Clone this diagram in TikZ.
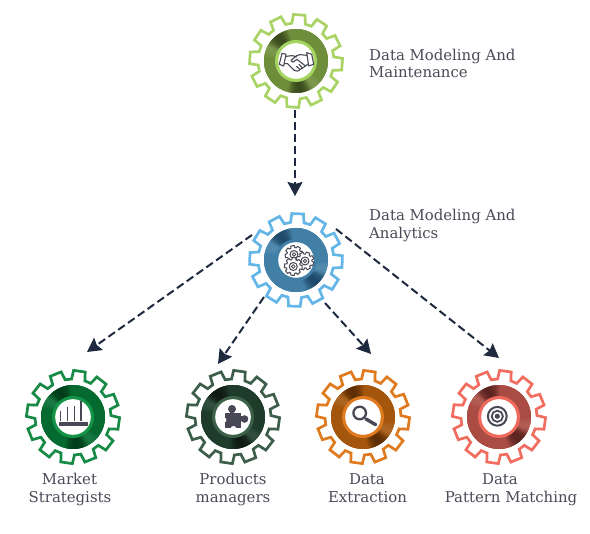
\documentclass[tikz,border=0pt]{standalone}
\usepackage{fontspec}
\setmainfont{DejaVu Serif}
\usetikzlibrary{arrows.meta}
\definecolor{txt}{HTML}{4A4A58}
\definecolor{ico}{HTML}{484856}
\definecolor{arr}{HTML}{1F2A3F}
\definecolor{topG}{HTML}{A9D465}\definecolor{topR}{HTML}{6F8E3B}\definecolor{topD}{HTML}{3C4C1E}\definecolor{topA}{HTML}{A3D45F}
\definecolor{midG}{HTML}{63B6E6}\definecolor{midR}{HTML}{417FA6}\definecolor{midD}{HTML}{1F4A68}\definecolor{midA}{HTML}{417FA6}
\definecolor{mkG}{HTML}{178A45}\definecolor{mkR}{HTML}{056A30}\definecolor{mkD}{HTML}{023D1B}\definecolor{mkA}{HTML}{159447}
\definecolor{prG}{HTML}{3D5E4A}\definecolor{prR}{HTML}{1F3C2B}\definecolor{prD}{HTML}{101A14}\definecolor{prA}{HTML}{3D6048}
\definecolor{exG}{HTML}{E07A1F}\definecolor{exR}{HTML}{A4560D}\definecolor{exD}{HTML}{5C2E05}\definecolor{exA}{HTML}{E07A1F}
\definecolor{paG}{HTML}{F06D60}\definecolor{paR}{HTML}{AA4C43}\definecolor{paD}{HTML}{5A2420}\definecolor{paA}{HTML}{EF6A5C}
\tikzset{
  x=1pt,y=1pt,
  gearnode/.style={circle,minimum size=96pt,inner sep=0pt,outer sep=0pt},
  lab/.style={font=\fontsize{14.9}{14.9}\selectfont,text=txt,inner sep=0pt},
  conn/.style={draw=arr,line width=2pt,dash pattern=on 8pt off 4pt,-{Stealth[length=14pt,width=15pt,inset=2pt]}},
  icoline/.style={draw=ico,line width=1.1pt,line join=round,line cap=round}
}
% builds a closed toothed outline in \gp
\newcommand\mkgear[6]{%
  \gdef\gp{}%
  \pgfmathsetmacro\gpitch{360/#1}%
  \foreach \i in {1,...,#1}{%
    \pgfmathsetmacro\gc{#4+(\i-1)*\gpitch}%
    \pgfmathsetmacro\ga{\gc-#5*\gpitch}%
    \pgfmathsetmacro\gb{\gc-#6*\gpitch}%
    \pgfmathsetmacro\gd{\gc+#6*\gpitch}%
    \pgfmathsetmacro\ge{\gc+#5*\gpitch}%
    \xdef\gp{\gp (\ga:#2) -- (\gb:#3) -- (\gd:#3) -- (\ge:#2) -- }%
  }%
}
% name, x, y, tooth angle, colour prefix, dark angle 1, dark angle 2, icon
\newcommand\gearfig[8]{%
  \node[gearnode] (#1) at (#2,#3) {};
  \begin{scope}[shift={(#2,#3)}]
    \mkgear{12}{38}{46.6}{#4}{0.34}{0.24}
    \draw[#5G,line width=2.7pt,line join=miter] \gp cycle;
    \fill[#5R] (0,0) circle[radius=32];
    \foreach \a in {0,4,...,356}{%
      \pgfmathsetmacro\dA{abs(mod(\a-(#6)+720,360)-180)}%
      \pgfmathsetmacro\dB{abs(mod(\a-(#7)+720,360)-180)}%
      \pgfmathsetmacro\lA{abs(mod(\a-(#6)+690,360)-180)}%
      \pgfmathsetmacro\lB{abs(mod(\a-(#7)+690,360)-180)}%
      \pgfmathsetmacro\wk{100*(1-max(max(0,1-(\dA/24)^2),max(0,1-(\dB/24)^2)))}%
      \pgfmathsetmacro\wl{9*max(max(0,1-(\lA/16)^2),max(0,1-(\lB/16)^2))}%
      \colorlet{wedgeC}{#5R!\wk!#5D}%
      \colorlet{wedgeD}{white!\wl!wedgeC}%
      \pgfmathsetmacro\aE{\a+9}%
      \draw[wedgeD,line width=12pt] (\a:26) arc[start angle=\a,end angle=\aE,radius=26];
    }
    \fill[#5A] (0,0) circle[radius=21];
    \fill[white] (0,0) circle[radius=17.8];
    \begin{scope}[yscale=-1]
      #8
    \end{scope}
  \end{scope}
}
\begin{document}
\begin{tikzpicture}
\useasboundingbox (0,0) rectangle (590,534);
\fill[white] (0,0) rectangle (590,534);

\gearfig{top}{296}{473}{86}{top}{95}{-55}{%
  \draw[icoline] (-14,-7.7) -- (-10,-6.7) -- (-12.3,5) -- (-16.7,3.3) -- cycle;
  \draw[icoline] (10.7,-8.3) -- (15.7,-6.7) -- (17.7,3.3) -- (12.7,5) -- cycle;
  \draw[icoline] (-10.4,-4.6) -- (-3.5,-5.4) -- (0.5,-4);
  \draw[icoline] (11,-5.6) -- (4,-6.4) -- (0.5,-5.2) -- (-5,-0.6) -- (-3.2,1.2) -- (1,-1.6) -- (9.5,5);
  \draw[icoline] (-11.6,2.6) -- (-8.6,2.6) -- (-1.6,9.4) -- (1.6,10.2) -- (4.2,8.4) -- (6.6,7) -- (9.5,5) -- (12,3);
  \draw[icoline] (0.6,5.4) -- (3.8,8.4);
  \draw[icoline] (3,3.4) -- (6.2,6.8);
}
\gearfig{mid}{296}{274}{88}{mid}{130}{-60}{%
  \foreach \cx/\cy/\rr in {-2/-5.5/10,9/1/25,-2.7/6.5/40}{%
    \begin{scope}[shift={(\cx,\cy)},yscale=-1]
      \mkgear{8}{7}{9}{\rr}{0.37}{0.25}
      \draw[icoline,fill=white,line width=1pt] \gp cycle;
      \draw[ico,line width=1pt] (0,0) circle[radius=4];
      \draw[ico,line width=0.8pt] (0,0) circle[radius=1.8];
    \end{scope}
  }
}
\gearfig{market}{73}{117}{82}{mk}{95}{-65}{%
  \fill[ico] (-14.3,5.3) rectangle (15,9.3);
  \draw[ico,line width=1.5pt] (-12.3,4.5) -- (-12.3,-5.7);
  \draw[ico,line width=1.5pt] (-5.7,4.5) -- (-5.7,-9.7);
  \draw[ico,line width=1.5pt] (1.7,4.5) -- (1.7,-10.7);
  \draw[ico,line width=2pt] (8.3,4.5) -- (8.3,-15.7);
}
\gearfig{products}{233}{117}{82}{pr}{105}{-60}{%
  \fill[ico] (-8,-4) rectangle (8,11);
  \fill[ico] (-1,-8) circle[radius=4];
  \fill[ico] (-3,-6) rectangle (1,-3);
  \fill[ico] (11.5,2) circle[radius=3.8];
  \fill[ico] (7,-0.5) rectangle (10,4.5);
  \fill[white] (0.5,12) circle[radius=3];
  \fill[white] (-9,3) circle[radius=2.4];
}
\gearfig{extraction}{363}{117}{82}{ex}{120}{-70}{%
  \draw[ico,line width=2.3pt] (-3.3,-4) circle[radius=6.3];
  \draw[ico,line width=3.4pt,line cap=round] (2.9,2) -- (12.7,7.7);
}
\gearfig{pattern}{499}{117}{82}{pa}{130}{-70}{%
  \draw[ico,line width=2pt] (-1.7,-0.7) circle[radius=9.4];
  \draw[ico,line width=1.8pt] (-1.7,-0.7) circle[radius=5.6];
  \fill[ico] (-1.7,-0.7) circle[radius=2.6];
}

\coordinate (s0) at ([shift={(-1,-49)}]top.center);
\coordinate (e0) at ([shift={(-1,64)}]mid.center);
\coordinate (s1) at ([shift={(-44,25)}]mid.center);
\coordinate (e1) at ([shift={(14,65)}]market.center);
\coordinate (s2) at ([shift={(-32,-37)}]mid.center);
\coordinate (e2) at ([shift={(-15,53)}]products.center);
\coordinate (s3) at ([shift={(29,-43)}]mid.center);
\coordinate (e3) at ([shift={(8,63)}]extraction.center);
\coordinate (s4) at ([shift={(40,31)}]mid.center);
\coordinate (e4) at ([shift={(0,59)}]pattern.center);
\draw[conn] (s0) -- (e0);
\draw[conn] (s1) -- (e1);
\draw[conn] (s2) -- (e2);
\draw[conn] (s3) -- (e3);
\draw[conn] (s4) -- (e4);

\node[lab,anchor=base west] (l1a) at (369,473) {Data Modeling And};
\node[lab,anchor=base west] (l1b) at (369,456) {Maintenance};
\node[lab,anchor=base west] (l2a) at (369,313) {Data Modeling And};
\node[lab,anchor=base west] (l2b) at (369,295) {Analytics};
\node[lab,anchor=base] (l3a) at (69.5,49) {Market};
\node[lab,anchor=base] (l3b) at (70,31) {Strategists};
\node[lab,anchor=base] (l4a) at (233,49) {Products};
\node[lab,anchor=base] (l4b) at (233,31) {managers};
\node[lab,anchor=base] (l5a) at (367,49) {Data};
\node[lab,anchor=base] (l5b) at (367.5,31) {Extraction};
\node[lab,anchor=base] (l6a) at (500,49) {Data};
\node[lab,anchor=base] (l6b) at (511,31) {Pattern Matching};
\end{tikzpicture}
\end{document}
